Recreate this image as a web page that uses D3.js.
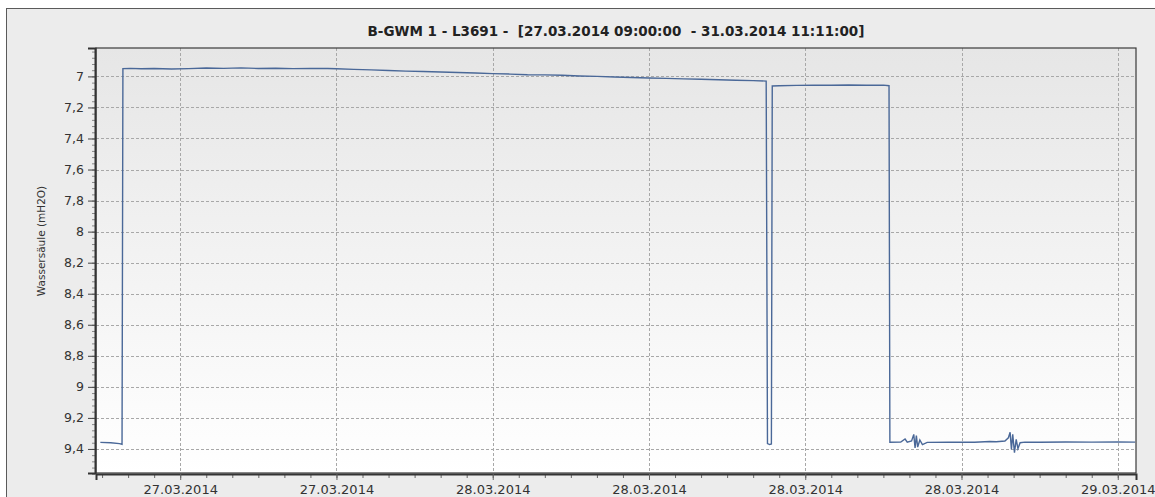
<!DOCTYPE html>
<html>
<head>
<meta charset="utf-8">
<script src="https://cdn.jsdelivr.net/npm/d3@7"></script>
<style>
  html, body { margin: 0; padding: 0; background: #fff; }
  svg { display: block; }
</style>
</head>
<body>
<svg id="chart" width="1155" height="497"></svg>
<script>
  // Title and axis text
  const titleText = "B-GWM 1 - L3691 -  [27.03.2014 09:00:00  - 31.03.2014 11:11:00]";
  const yLabel = "Wassersäule (mH2O)";

  // Axis domain (time window visible, level range)
  const timeDomain = ["2014-03-27T08:46", "2014-03-29T00:42"];
  const levelDomain = [6.817, 9.555];
  const yTickValues = [7, 7.2, 7.4, 7.6, 7.8, 8, 8.2, 8.4, 8.6, 8.8, 9, 9.2, 9.4];

  const times = [
    "2014-03-27T08:56", "2014-03-27T09:20", "2014-03-27T09:40", "2014-03-27T09:46",
    "2014-03-27T09:48", "2014-03-27T10:05", "2014-03-27T10:30", "2014-03-27T11:00",
    "2014-03-27T11:40", "2014-03-27T12:20", "2014-03-27T13:00", "2014-03-27T13:40",
    "2014-03-27T14:20", "2014-03-27T15:00", "2014-03-27T15:40", "2014-03-27T16:20",
    "2014-03-27T17:00", "2014-03-27T17:40", "2014-03-27T18:00", "2014-03-27T18:40",
    "2014-03-27T19:20", "2014-03-27T20:00", "2014-03-27T20:40", "2014-03-27T21:20",
    "2014-03-27T22:00", "2014-03-27T22:40", "2014-03-27T23:20", "2014-03-28T00:00",
    "2014-03-28T00:40", "2014-03-28T01:20", "2014-03-28T02:00", "2014-03-28T02:40",
    "2014-03-28T03:20", "2014-03-28T04:00", "2014-03-28T04:40", "2014-03-28T05:20",
    "2014-03-28T06:00", "2014-03-28T06:40", "2014-03-28T07:20", "2014-03-28T08:00",
    "2014-03-28T08:40", "2014-03-28T09:20", "2014-03-28T10:00", "2014-03-28T10:30",
    "2014-03-28T10:33", "2014-03-28T10:38", "2014-03-28T10:42",
    "2014-03-28T10:44", "2014-03-28T11:00", "2014-03-28T11:40", "2014-03-28T12:20",
    "2014-03-28T13:00", "2014-03-28T13:40", "2014-03-28T14:20", "2014-03-28T15:00",
    "2014-03-28T15:13",
    "2014-03-28T15:15", "2014-03-28T15:40", "2014-03-28T15:50", "2014-03-28T15:55",
    "2014-03-28T16:05", "2014-03-28T16:10", "2014-03-28T16:13", "2014-03-28T16:16",
    "2014-03-28T16:19", "2014-03-28T16:24", "2014-03-28T16:30", "2014-03-28T16:41",
    "2014-03-28T17:30", "2014-03-28T18:30", "2014-03-28T19:05", "2014-03-28T19:20",
    "2014-03-28T19:40", "2014-03-28T19:48", "2014-03-28T19:52", "2014-03-28T19:55",
    "2014-03-28T19:58", "2014-03-28T20:02", "2014-03-28T20:06", "2014-03-28T20:10",
    "2014-03-28T20:15", "2014-03-28T20:26", "2014-03-28T21:00", "2014-03-28T22:00",
    "2014-03-28T23:00", "2014-03-29T00:00", "2014-03-29T00:40"
  ];
  const levels = [
    9.358, 9.360, 9.366, 9.370,
    6.950, 6.948, 6.951, 6.949,
    6.952, 6.950, 6.946, 6.948,
    6.945, 6.949, 6.947, 6.950,
    6.948, 6.949, 6.951, 6.955,
    6.958, 6.962, 6.966, 6.968,
    6.972, 6.975, 6.978, 6.982,
    6.985, 6.989, 6.990, 6.993,
    6.997, 7.000, 7.004, 7.007,
    7.010, 7.013, 7.016, 7.018,
    7.022, 7.025, 7.027, 7.030,
    9.365, 9.372, 9.368,
    7.062, 7.060, 7.058, 7.056,
    7.057, 7.055, 7.057, 7.056,
    7.060,
    9.357, 9.355, 9.336, 9.356,
    9.348, 9.306, 9.394, 9.314,
    9.388, 9.342, 9.372, 9.358,
    9.357, 9.357, 9.352, 9.354,
    9.349, 9.328, 9.293, 9.404,
    9.306, 9.424, 9.338, 9.398,
    9.360, 9.356, 9.357, 9.355,
    9.356, 9.355, 9.356
  ];

  const parseTime = d3.utcParse("%Y-%m-%dT%H:%M");
  const data = times.map((t, i) => ({ date: parseTime(t), value: levels[i] }));

  // Chart dimensions
  const width = 1155;
  const height = 497;
  const marginTop = 48;
  const marginRight = 19;
  const marginBottom = 24;
  const marginLeft = 96;

  const svg = d3.select("#chart");

  // Outer panel
  svg.append("rect")
    .attr("x", 6.5).attr("y", 8.5)
    .attr("width", width).attr("height", height)
    .attr("fill", "#ececec")
    .attr("stroke", "#5a5a5a");

  // Plot background gradient
  const grad = svg.append("defs").append("linearGradient")
    .attr("id", "bg").attr("x1", 0).attr("y1", 0).attr("x2", 0).attr("y2", 1);
  grad.append("stop").attr("offset", "0%").attr("stop-color", "#e6e6e6");
  grad.append("stop").attr("offset", "100%").attr("stop-color", "#ffffff");

  svg.append("rect")
    .attr("x", marginLeft).attr("y", marginTop)
    .attr("width", width - marginLeft - marginRight)
    .attr("height", height - marginTop - marginBottom)
    .attr("fill", "url(#bg)");

  // Scales
  const x = d3.scaleUtc()
    .domain(timeDomain.map(parseTime))
    .range([marginLeft, width - marginRight]);

  const y = d3.scaleLinear()
    .domain(levelDomain)
    .range([marginTop, height - marginBottom]);

  const xMajor = x.ticks(d3.utcHour.every(6));
  const xMinor = x.ticks(d3.utcMinute.every(90));
  const yMinor = d3.range(6.84, 9.56, 0.04);

  // Grid
  svg.append("g")
    .selectAll("line")
    .data(yTickValues)
    .join("line")
    .attr("x1", marginLeft).attr("x2", width - marginRight)
    .attr("y1", (d) => Math.round(y(d)) + 0.5)
    .attr("y2", (d) => Math.round(y(d)) + 0.5)
    .attr("stroke", "#a8a8a8")
    .attr("stroke-dasharray", "3,2");

  svg.append("g")
    .selectAll("line")
    .data(xMajor)
    .join("line")
    .attr("x1", (d) => Math.round(x(d)) + 0.5)
    .attr("x2", (d) => Math.round(x(d)) + 0.5)
    .attr("y1", marginTop).attr("y2", height - marginBottom)
    .attr("stroke", "#a8a8a8")
    .attr("stroke-dasharray", "3,2");

  // Line
  const line = d3.line()
    .x((d) => x(d.date))
    .y((d) => y(d.value));

  svg.append("path")
    .datum(data)
    .attr("fill", "none")
    .attr("stroke", "#4a6898")
    .attr("stroke-width", 1.4)
    .attr("d", line);

  // Plot frame
  svg.append("rect")
    .attr("x", marginLeft).attr("y", marginTop)
    .attr("width", width - marginLeft - marginRight)
    .attr("height", height - marginTop - marginBottom)
    .attr("fill", "none")
    .attr("stroke", "#3a3a3a")
    .attr("stroke-width", 1.2);

  // Axes
  const fontFamily = "'DejaVu Sans', Verdana, sans-serif";

  const gx = svg.append("g")
    .attr("transform", `translate(0,${height - marginBottom + 1})`);
  gx.append("g")
    .call(d3.axisBottom(x).tickValues(xMinor).tickSize(4).tickFormat(""))
    .call((g) => g.select(".domain").remove())
    .call((g) => g.selectAll("line").attr("stroke", "#666"));
  gx.append("g")
    .call(d3.axisBottom(x).tickValues(xMajor).tickSize(6).tickPadding(5)
      .tickFormat(d3.utcFormat("%d.%m.%Y")))
    .call((g) => g.select(".domain").attr("stroke", "#333").attr("stroke-width", 2))
    .call((g) => g.selectAll("line").attr("stroke", "#666"))
    .call((g) => g.selectAll("text")
      .attr("font-family", fontFamily).attr("font-size", 13).attr("fill", "#333"));

  const gy = svg.append("g")
    .attr("transform", `translate(${marginLeft - 1},0)`);
  gy.append("g")
    .call(d3.axisLeft(y).tickValues(yMinor).tickSize(3).tickFormat(""))
    .call((g) => g.select(".domain").remove())
    .call((g) => g.selectAll("line").attr("stroke", "#888"));
  gy.append("g")
    .call(d3.axisLeft(y).tickValues(yTickValues).tickSize(7).tickPadding(4)
      .tickFormat((d) => d3.format("~g")(d).replace(".", ",")))
    .call((g) => g.select(".domain").attr("stroke", "#333").attr("stroke-width", 2))
    .call((g) => g.selectAll("line").attr("stroke", "#444"))
    .call((g) => g.selectAll("text")
      .attr("font-family", fontFamily).attr("font-size", 12.5).attr("fill", "#333"));

  // Y label
  svg.append("text")
    .attr("transform", "translate(45,241) rotate(-90)")
    .attr("text-anchor", "middle")
    .attr("font-family", fontFamily)
    .attr("font-size", 10.5)
    .attr("fill", "#333")
    .text(yLabel);

  // Title
  svg.append("text")
    .attr("x", (marginLeft + width - marginRight) / 2)
    .attr("y", 36)
    .attr("text-anchor", "middle")
    .attr("font-family", fontFamily)
    .attr("font-weight", "bold")
    .attr("font-size", 13.5)
    .attr("fill", "#222")
    .attr("xml:space", "preserve")
    .text(titleText);
</script>
</body>
</html>
